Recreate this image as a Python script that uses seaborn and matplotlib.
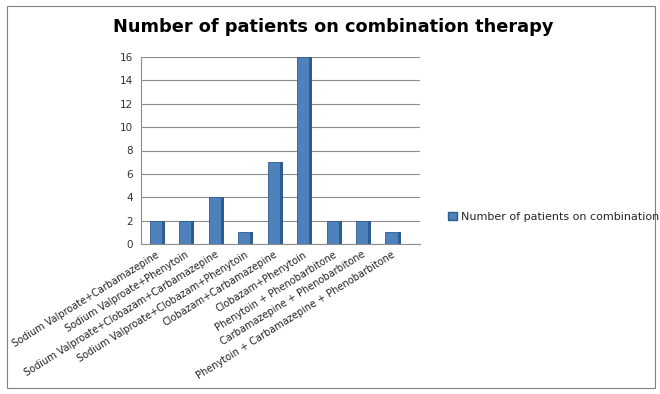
import matplotlib
matplotlib.use("Agg")
import matplotlib.pyplot as plt
import seaborn as sns
import pandas as pd
from matplotlib.patches import Rectangle, Patch

categories = [
    "Sodium Valproate+Carbamazepine",
    "Sodium Valproate+Phenytoin",
    "Sodium Valproate+Clobazam+Carbamazepine",
    "Sodium Valproate+Clobazam+Phenytoin",
    "Clobazam+Carbamazepine",
    "Clobazam+Phenytoin",
    "Phenytoin + Phenobarbitone",
    "Carbamazepine + Phenobarbitone",
    "Phenytoin + Carbamazepine + Phenobarbitone",
]
values = [2, 2, 4, 1, 7, 16, 2, 2, 1]
series_name = "Number of patients on combination"
title = "Number of patients on combination therapy"
yticks = [0, 2, 4, 6, 8, 10, 12, 14, 16]

df = pd.DataFrame({"cat": categories, "val": values})

sns.set_style("white")
plt.rcParams["font.family"] = ["DejaVu Sans"]

fig = plt.figure(figsize=(6.6, 3.94), dpi=100)
ax = fig.add_axes([141 / 660, 1 - 244 / 394, 279 / 660, (244 - 57) / 394])

bar_color = "#4F81BD"
sns.barplot(data=df, x="cat", y="val", color=bar_color, width=0.42,
            saturation=1, ax=ax, edgecolor="#2F5A8C", linewidth=0.6, zorder=3)

# darker side faces for a 3D look
for p in list(ax.patches):
    x0 = p.get_x() + p.get_width()
    h = p.get_height()
    side = Rectangle((x0, 0), 0.1, h, facecolor="#2E5C8E", edgecolor="none", zorder=2)
    ax.add_patch(side)

n = len(categories)
ax.set_ylim(0, 16)
ax.set_xlim(-0.5, n - 0.04)
ax.set_yticks(yticks)
ax.set_yticklabels([str(t) for t in yticks], fontsize=7.5, color="#333333")
ax.yaxis.grid(True, color="#8c8c8c", linewidth=0.8, zorder=0)
ax.set_axisbelow(True)
ax.set_xlabel("")
ax.set_ylabel("")

ax.set_xticks(range(n))
ax.set_xticklabels(categories, rotation=32, ha="right", rotation_mode="anchor",
                   fontsize=7, color="#222222")
ax.tick_params(axis="x", length=0, pad=4)
ax.tick_params(axis="y", length=3, color="#8c8c8c", pad=3)

for s in ["top", "right"]:
    ax.spines[s].set_visible(False)
ax.spines["left"].set_color("#8c8c8c")
ax.spines["bottom"].set_color("#8c8c8c")

ax.set_xticks([i - 0.5 for i in range(n + 1)], minor=True)
ax.tick_params(axis="x", which="minor", length=4, color="#8c8c8c")

fig.text(333 / 660, 1 - 27 / 394, title, ha="center", va="center",
         fontsize=12.8, fontweight="bold", color="#000000")

handle = Patch(facecolor=bar_color, edgecolor="#2F5A8C", label=series_name)
fig.legend(handles=[handle], loc="center left",
           bbox_to_anchor=(438 / 660, 1 - 217 / 394), frameon=False,
           fontsize=8, handlelength=0.8, handleheight=0.8, handletextpad=0.4)

fig.patches.append(Rectangle((7 / 660, 6 / 394), 648 / 660, 382 / 394,
                             transform=fig.transFigure, fill=False,
                             edgecolor="#808080", linewidth=0.8))

fig.savefig("out.png", dpi=100)
